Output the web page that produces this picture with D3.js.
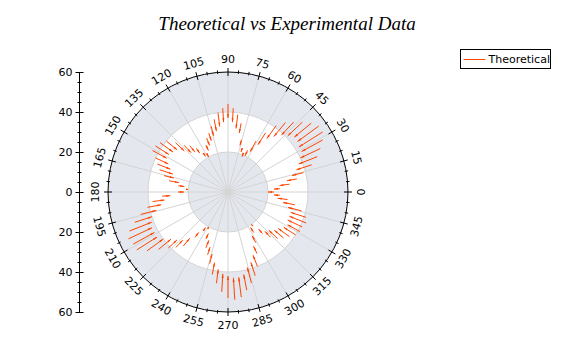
<!DOCTYPE html>
<html>
<head>
<meta charset="utf-8">
<script src="https://cdn.jsdelivr.net/npm/d3@7"></script>
<style>
  body { margin: 0; background: #fff; }
  text { font-family: "DejaVu Sans", sans-serif; }
</style>
</head>
<body>
<svg id="chart"></svg>
<script>
// angle (deg) of each vector, with its outer (start) and inner (end) radius
const angles = [0, 3.6, 7.2, 10.8, 14.4, 18, 21.6, 25.2, 28.8, 32.4, 36, 39.6, 43.2, 46.8, 50.4,
    54, 57.6, 61.2, 64.8, 68.4, 72, 75.6, 79.2, 82.8, 86.4, 90, 93.6, 97.2, 100.8, 104.4,
    108, 111.6, 115.2, 118.8, 122.4, 126, 129.6, 133.2, 136.8, 140.4, 144, 147.6, 151.2, 154.8, 158.4,
    162, 165.6, 169.2, 172.8, 176.4, 180, 183.6, 187.2, 190.8, 194.4, 198, 201.6, 205.2, 208.8, 212.4,
    216, 219.6, 223.2, 226.8, 230.4, 234, 237.6, 241.2, 244.8, 248.4, 252, 255.6, 259.2, 262.8, 266.4,
    270, 273.6, 277.2, 280.8, 284.4, 288, 291.6, 295.2, 298.8, 302.4, 306, 309.6, 313.2, 316.8, 320.4,
    324, 327.6, 331.2, 334.8, 338.4, 342, 345.6, 349.2, 352.8, 356.4];
const outerR = [23, 26, 31, 35, 39, 44, 48, 51, 54, 56, 56, 54, 51, 48, 45,
    41, 35, 29, 23, 21, 23, 27, 35, 39, 42, 44, 42, 40, 37, 34,
    31, 29, 26, 22, 23, 27, 30, 32, 36, 40, 42, 43, 43, 40, 38,
    36, 33, 30, 25, 21, 25, 33, 38, 41, 45, 49, 53, 55, 54, 54,
    50, 45, 41, 38, 35, 28, 23, 21, 26, 30, 33, 37, 42, 46, 50,
    53, 54, 53, 50, 47, 44, 40, 34, 29, 24, 21, 27, 31, 34, 36,
    38, 40, 41, 41, 42, 41, 38, 34, 30, 26];
const innerR = [20, 23, 26, 30, 33, 36, 38, 40, 42, 42, 43, 43, 41, 39, 36,
    33, 28, 23, 20, 19, 21, 24, 30, 32, 35, 37, 35, 33, 31, 29,
    27, 25, 23, 20, 21, 24, 26, 27, 30, 33, 34, 35, 35, 33, 31,
    29, 28, 25, 22, 20, 22, 29, 32, 34, 37, 40, 41, 42, 42, 42,
    40, 37, 35, 33, 30, 25, 21, 20, 23, 26, 29, 32, 36, 39, 41,
    42, 43, 43, 42, 39, 37, 34, 30, 25, 21, 20, 24, 27, 28, 30,
    31, 33, 34, 33, 33, 33, 31, 28, 25, 23];

const radialTicks = [-60, -40, -20, 0, 20, 40, 60];
const angleTicks = [0, 15, 30, 45, 60, 75, 90, 105, 120, 135, 150, 165,
    180, 195, 210, 225, 240, 255, 270, 285, 300, 315, 330, 345];
const bands = [[0, 20], [40, 60]];
const seriesName = "Theoretical";

const width = 572, height = 354;
const cx = 228, cy = 192, R = 120;
const red = "#ff4500";

const svg = d3.select("#chart")
    .attr("width", width)
    .attr("height", height);

const r = d3.scaleLinear().domain([0, 60]).range([0, R]);
const rad = d => d * Math.PI / 180;
const px = (v, a) => cx + r(v) * Math.cos(rad(a));
const py = (v, a) => cy - r(v) * Math.sin(rad(a));

// title
svg.append("text")
    .attr("x", 287)
    .attr("y", 30)
    .attr("text-anchor", "middle")
    .style("font-family", "'Liberation Serif', serif")
    .style("font-style", "italic")
    .style("font-size", "19px")
    .text("Theoretical vs Experimental Data");

const plot = svg.append("g");

// background bands
plot.selectAll(".band")
    .data(bands)
    .enter().append("path")
    .attr("class", "band")
    .attr("transform", `translate(${cx},${cy})`)
    .attr("d", d => d3.arc().innerRadius(r(d[0])).outerRadius(r(d[1])).startAngle(0).endAngle(2 * Math.PI)())
    .attr("fill", "#e4e7ee");

// grid circles
plot.selectAll(".gridc")
    .data([20, 40])
    .enter().append("circle")
    .attr("cx", cx).attr("cy", cy)
    .attr("r", d => r(d))
    .attr("fill", "none")
    .attr("stroke", "#d4d4d4");

// spokes
plot.selectAll(".spoke")
    .data(angleTicks)
    .enter().append("line")
    .attr("x1", cx).attr("y1", cy)
    .attr("x2", d => px(60, d)).attr("y2", d => py(60, d))
    .attr("stroke", "#d4d4d4");

// outer circle with ticks
plot.append("circle")
    .attr("cx", cx).attr("cy", cy)
    .attr("r", R)
    .attr("fill", "none")
    .attr("stroke", "#000");

const minorAngles = d3.range(0, 360, 5);
plot.selectAll(".atick")
    .data(minorAngles)
    .enter().append("line")
    .attr("x1", d => cx + (R - (d % 15 ? 1.5 : 4)) * Math.cos(rad(d)))
    .attr("y1", d => cy - (R - (d % 15 ? 1.5 : 4)) * Math.sin(rad(d)))
    .attr("x2", d => cx + (R + (d % 15 ? 2 : 4)) * Math.cos(rad(d)))
    .attr("y2", d => cy - (R + (d % 15 ? 2 : 4)) * Math.sin(rad(d)))
    .attr("stroke", "#000");

// angle labels, rotated along the circle
plot.selectAll(".alabel")
    .data(angleTicks)
    .enter().append("text")
    .attr("transform", d => {
        let rot = 90 - d;
        if (d > 180) rot += 180;
        return `translate(${cx + 133 * Math.cos(rad(d))},${cy - 133 * Math.sin(rad(d))}) rotate(${rot})`;
    })
    .attr("text-anchor", "middle")
    .attr("dy", "0.35em")
    .style("font-size", "11px")
    .text(d => d);

// vectors
const vecs = angles.map((a, i) => ({ a, o: outerR[i], n: innerR[i] }));

plot.selectAll(".vec")
    .data(vecs)
    .enter().append("line")
    .attr("x1", d => px(d.o, d.a)).attr("y1", d => py(d.o, d.a))
    .attr("x2", d => px(d.n, d.a)).attr("y2", d => py(d.n, d.a))
    .attr("stroke", red)
    .attr("stroke-width", 1);

plot.selectAll(".head")
    .data(vecs)
    .enter().append("path")
    .attr("transform", d => `translate(${px(d.n, d.a)},${py(d.n, d.a)}) rotate(${-d.a})`)
    .attr("d", d => {
        const len = Math.min(4, r(d.o - d.n));
        return `M0,0L${len},-1L${len},1Z`;
    })
    .attr("fill", red);

// radial axis on the left
const y = d3.scaleLinear().domain([60, -60]).range([cy - R, cy + R]);

svg.append("g")
    .attr("transform", "translate(79.5,0)")
    .call(d3.axisLeft(y).tickValues(d3.range(-60, 61, 5)).tickSize(2).tickFormat(""))
    .call(g => g.selectAll(".tick line").attr("x2", 2).attr("x1", -2))
    .call(g => g.select(".domain").remove());

svg.append("g")
    .attr("transform", "translate(79.5,0)")
    .call(d3.axisLeft(y).tickValues(radialTicks).tickSize(4).tickPadding(3).tickFormat(d => Math.abs(d)))
    .call(g => g.selectAll(".tick line").attr("x1", 4))
    .call(g => g.select(".domain").attr("d", `M0,${cy - R}V${cy + R}`))
    .call(g => g.selectAll("text").style("font-size", "11px").style("font-family", "'DejaVu Sans', sans-serif").attr("fill", "#000"));

// legend
const legend = svg.append("g").attr("transform", "translate(460.5,49.5)");
legend.append("rect")
    .attr("width", 90).attr("height", 19)
    .attr("fill", "#fff").attr("stroke", "#000");
legend.append("line")
    .attr("x1", 3).attr("x2", 25).attr("y1", 10).attr("y2", 10)
    .attr("stroke", red);
legend.append("text")
    .attr("x", 28).attr("y", 10).attr("dy", "0.35em")
    .style("font-size", "11px")
    .text(seriesName);
</script>
</body>
</html>
